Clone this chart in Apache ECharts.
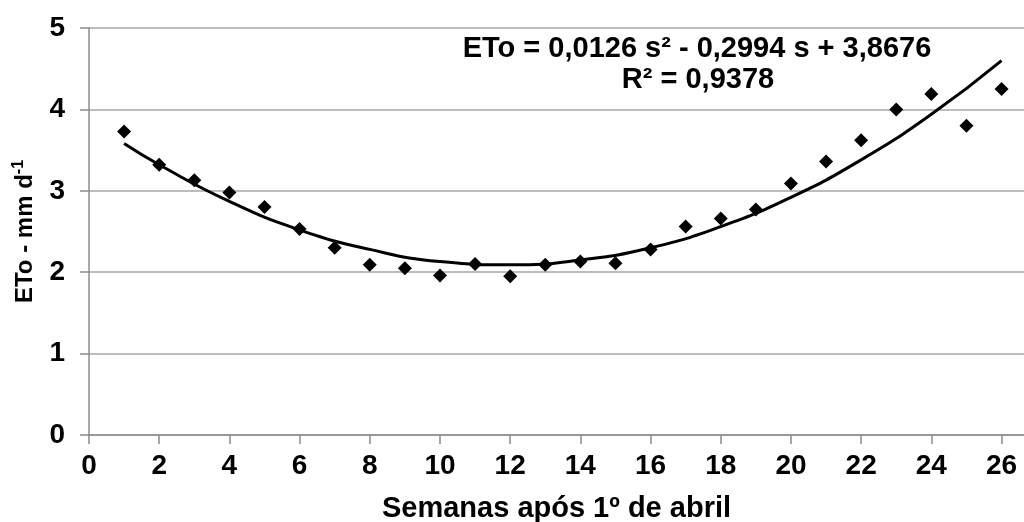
<!DOCTYPE html>
<html><head><meta charset="utf-8">
<script src="https://cdn.jsdelivr.net/npm/echarts@6/dist/echarts.min.js"></script>
<style>html,body{margin:0;padding:0;background:#fff}#c{width:1024px;height:522px}</style>
</head><body><div id="c"></div>
<script>
const weeks = [1,2,3,4,5,6,7,8,9,10,11,12,13,14,15,16,17,18,19,20,21,22,23,24,25,26];
const eto = [3.73,3.32,3.13,2.98,2.80,2.53,2.30,2.09,2.05,1.96,2.10,1.95,2.09,2.13,2.11,2.28,2.56,2.66,2.77,3.09,3.36,3.62,4.00,4.19,3.80,4.25];
const trendX = [1,2,4,6,8,10,12,14,16,18,20,22,24,26];
const trendY = [3.58,3.32,2.87,2.52,2.28,2.13,2.09,2.15,2.30,2.56,2.92,3.38,3.94,4.60];
const eqLine1 = 'ETo = 0,0126 s² - 0,2994 s + 3,8676';
const eqLine2 = 'R² = 0,9378';
const xTitle = 'Semanas após 1º de abril';

const FONT = '"Liberation Sans", Arial, sans-serif';
const chart = echarts.init(document.getElementById('c'));
chart.setOption({
  animation: false,
  grid: {left: 89, right: 0, top: 28, bottom: 87, outerBoundsMode: 'none', containLabel: false},
  xAxis: {
    type: 'value', min: 0, max: 26.64, interval: 2,
    axisLine: {lineStyle: {color: '#8c8c8c', width: 1.5}},
    axisTick: {show: true, length: 9, lineStyle: {color: '#8c8c8c', width: 1.5}},
    splitLine: {show: false},
    axisLabel: {color: '#000', fontFamily: FONT, fontWeight: 'bold', fontSize: 28, margin: 17,
      showMaxLabel: false,
      formatter: v => (Math.abs(v - Math.round(v)) < 1e-6 ? String(Math.round(v)) : '')},
    name: xTitle, nameLocation: 'middle', nameGap: 59,
    nameTextStyle: {color: '#000', fontFamily: FONT, fontWeight: 'bold', fontSize: 29}
  },
  yAxis: {
    type: 'value', min: 0, max: 5, interval: 1,
    axisLine: {show: true, lineStyle: {color: '#8c8c8c', width: 1.5}},
    axisTick: {show: true, length: 9, lineStyle: {color: '#8c8c8c', width: 1.5}},
    splitLine: {show: true, lineStyle: {color: '#a6a6a6', width: 1.5}},
    axisLabel: {color: '#000', fontFamily: FONT, fontWeight: 'bold', fontSize: 28, margin: 24},
    name: '{a|ETo - mm d}{s|-1}', nameLocation: 'middle', nameGap: 50, nameRotate: 90,
    nameTextStyle: {color: '#000', fontFamily: FONT, fontWeight: 'bold', fontSize: 24, padding: [0, 0, 0, 0],
      rich: {
        a: {fontFamily: FONT, fontWeight: 'bold', fontSize: 24, color: '#000'},
        s: {fontFamily: FONT, fontWeight: 'bold', fontSize: 16, color: '#000', padding: [0,0,12,0]}
      }}
  },
  series: [
    {type: 'line', data: trendX.map((x,i)=>[x, trendY[i]]), smooth: 0.5, showSymbol: false,
      lineStyle: {color: '#000', width: 3}, z: 2},
    {type: 'scatter', data: weeks.map((x,i)=>[x, eto[i]]), symbol: 'diamond', symbolSize: [14,14],
      itemStyle: {color: '#000', opacity: 1}, z: 3}
  ],
  graphic: [
    {type: 'text', x: 697, y: 49, style: {text: eqLine1, fill: '#000', font: 'bold 29px ' + FONT, textAlign: 'center', textVerticalAlign: 'middle'}},
    {type: 'text', x: 698, y: 80, style: {text: eqLine2, fill: '#000', font: 'bold 29px ' + FONT, textAlign: 'center', textVerticalAlign: 'middle'}}
  ]
});
</script></body></html>
